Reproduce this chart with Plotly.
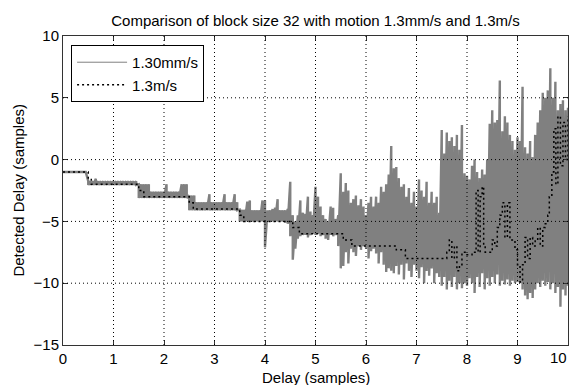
import plotly.graph_objects as go

# ---------------- data ----------------
# 1.30 mm/s: per 0.05-sample bin, upper and lower excursion of detected delay
bin_x = [round(0.05 * i, 2) for i in range(201)]
mm_hi = (
    [-1.0] * 10
    + [-1.75, -1.75, -1.75, -1.55] + [-1.75] * 16
    + [-2.0] * 5 + [-2.6] * 6 + [-2.0] + [-2.6] * 5 + [-2.0] * 3
    + [-2.9] * 3 + [-3.45, -3.45, -3.45, -3.45, -3.45, -2.8, -3.45, -3.45, -3.45, -3.45,
                    -3.45, -2.8, -3.45, -3.45, -3.45, -2.8, -3.45]
    + [-4.05, -4.05, -4.05, -3.4, -3.3, -4.1, -4.1, -4.1, -4.1, -3.3]
    + [-3.3, -4.1, -4.1, -4.0, -3.9, -3.2, -4.1, -4.1, -4.1, -4.0]
    + [-1.8, -4.5, -5.0, -4.5, -3.3, -4.3, -4.4, -3.0, -4.2, -4.5]
    + [-2.2, -3.0, -3.8, -4.5, -4.8, -5.0, -3.8, -3.9, -4.8, -4.5]
    + [-1.1, -2.6, -1.9, -2.5, -3.5, -3.2, -2.9, -3.7, -3.2, -3.8]
    + [-4.5, -3.5, -3.0, -3.8, -3.0, -3.5, -2.2, -2.6, -2.0, -1.2]
    + [1.1, -0.7, -0.6, -1.5, -2.2, -2.0, -3.0, -2.3, -3.5, -2.6]
    + [-3.8, -1.6, -2.5, -3.0, -1.8, -3.5, -2.6, -3.5, -3.0, -4.3]
    + [2.4, 0.5, 2.2, 1.5, 1.8, 1.1, 2.0, 0.8, 2.8, -1.1]
    + [-1.3, -1.6, -0.5, 0.0, -1.0, -1.5, -0.8, -1.2, 0.0, 2.9]
    + [4.0, 3.0, 3.2, 6.4, 2.3, 3.5, 3.0, 2.0, 1.5, 0.8]
    + [1.8, 1.5, 5.9, 1.0, 0.5, 1.5, 0.2, 2.0, 3.0, 4.0]
    + [5.4, 5.0, 5.6, 7.4, 5.0, 6.3, 4.0, 4.5, 4.8, 4.0]
    + [4.2]
)
mm_lo = (
    [-1.0] * 10
    + [-2.05] * 20
    + [-3.1] * 20
    + [-4.1] * 20
    + [-5.0] * 10
    + [-7.1, -5.0, -5.0, -5.0, -5.0, -5.0, -5.0, -5.0, -5.1, -5.2]
    + [-6.2, -8.1, -7.2, -6.4, -6.2, -6.1, -6.1, -6.3, -6.1, -6.0]
    + [-6.1, -6.0, -6.2, -6.1, -6.4, -6.5, -6.1, -6.2, -6.1, -7.0]
    + [-8.8, -8.6, -7.5, -8.4, -7.2, -7.5, -7.8, -7.0, -7.3, -7.0]
    + [-7.2, -8.0, -7.4, -7.2, -7.6, -8.4, -7.5, -8.5, -9.1, -8.8]
    + [-9.0, -9.2, -8.6, -9.3, -8.5, -9.7, -8.4, -9.0, -9.5, -8.5]
    + [-9.0, -9.6, -8.7, -10.0, -9.0, -9.4, -8.8, -10.0, -9.2, -9.5]
    + [-10.2, -9.5, -10.5, -9.8, -10.3, -9.5, -10.5, -10.0, -10.4, -10.0]
    + [-10.2, -9.6, -10.0, -10.8, -9.5, -10.3, -9.2, -10.5, -9.6, -10.2]
    + [-9.5, -10.0, -9.3, -10.2, -9.8, -10.1, -9.7, -10.2, -9.8, -10.0]
    + [-9.9, -10.0, -10.5, -11.0, -11.3, -10.8, -11.2, -10.5, -10.0, -10.3]
    + [-9.8, -10.2, -9.9, -10.5, -10.0, -10.8, -10.3, -11.9, -10.5, -11.0]
    + [-10.2]
)

# 1.3 m/s: stepped detected delay (value holds from each x until the next)
mps_x = [0, 0.5, 0.56, 1.5, 1.6, 2.5, 2.58, 3.5, 3.58, 4.55, 4.68, 5.55, 5.72, 6.6, 6.78,
         7.6, 7.65, 7.7, 7.75, 7.8, 7.85, 7.9, 8.0, 8.1, 8.18, 8.22, 8.26, 8.3, 8.33, 8.36,
         8.45, 8.5, 8.55, 8.6, 8.65, 8.7, 8.75, 8.8, 8.85, 8.9, 8.95, 9.0, 9.05, 9.1, 9.15,
         9.2, 9.25, 9.3, 9.35, 9.4, 9.45, 9.5, 9.55, 9.6, 9.63, 9.68, 9.72, 9.76, 9.8, 9.85,
         9.9, 9.95, 10.0]
mps_y = [-1, -1.6, -2, -2.5, -3, -3.5, -4, -4.5, -5, -5.5, -6, -6.5, -7, -7.3, -8,
         -7.5, -6.5, -8, -7, -9, -8.5, -7.5, -7.7, -7.5, -2.5, -7.5, -3, -2.2, -7, -7.5,
         -7.5, -6.5, -7, -5.5, -4.5, -3.5, -6.3, -3.5, -6.5, -6.5, -7.3, -8.5, -9.9, -8.5, -6.3,
         -8, -6.3, -7, -6.5, -5.5, -7, -5.5, -5.2, -4.5, -3, -1, 2.5, -2, 3.5, -0.5,
         3, 0, 3.5]

x_ticks = [0, 1, 2, 3, 4, 5, 6, 7, 8, 9, 10]
y_ticks = [-15, -10, -5, 0, 5, 10]
series_names = ["1.30mm/s", "1.3m/s"]
title_text = "Comparison of block size 32 with motion 1.3mm/s and 1.3m/s"
x_label = "Delay (samples)"
y_label = "Detected Delay (samples)"

# ---------------- figure ----------------
gx, gy = [], []
for xv, h, l in zip(bin_x, mm_hi, mm_lo):
    gx += [xv, xv]
    gy += [h, l]

FONT = "Liberation Sans, Arial, sans-serif"
GREY = "#808080"
fig = go.Figure()
fig.add_trace(go.Scatter(x=gx, y=gy, mode="lines", name=series_names[0],
                         legendgroup="mm", showlegend=False,
                         line=dict(color=GREY, width=2.4)))
# legend entry for the grey series, drawn with the thin reference line weight
fig.add_trace(go.Scatter(x=[None], y=[None], mode="lines", name=series_names[0],
                         legendgroup="mm", line=dict(color=GREY, width=1)))
fig.add_trace(go.Scatter(x=mps_x, y=mps_y, mode="lines", name=series_names[1],
                         line=dict(color="black", width=1.5, dash="2px,3px", shape="hv")))

shapes = []
for xv in x_ticks[1:-1]:
    shapes.append(dict(type="line", xref="x", yref="paper", x0=xv, x1=xv, y0=0, y1=1,
                       line=dict(color="black", width=1, dash="1px,3px"), layer="above"))
for yv in y_ticks[1:-1]:
    shapes.append(dict(type="line", xref="paper", yref="y", x0=0, x1=1, y0=yv, y1=yv,
                       line=dict(color="black", width=1, dash="1px,3px"), layer="above"))

axis_common = dict(showgrid=False, zeroline=False, showline=True, linecolor="#333333",
                   linewidth=1, mirror="ticks", ticks="inside", ticklen=5,
                   tickcolor="#333333",
                   tickfont=dict(family=FONT, size=15, color="black"))
fig.update_layout(
    width=569, height=385,
    margin=dict(l=63, r=1, t=36, b=40),
    paper_bgcolor="white", plot_bgcolor="white",
    font=dict(family=FONT, size=15, color="black"),
    title=dict(text=title_text, x=0.5, xref="paper", y=1 - 21 / 385, yref="container",
               yanchor="middle", xanchor="center", font=dict(family=FONT, size=15)),
    xaxis=dict(range=[0, 10], tickvals=x_ticks[:-1], **axis_common),
    yaxis=dict(range=[-15, 10], tickvals=y_ticks, **axis_common),
    legend=dict(x=0.016, y=0.971, xanchor="left", yanchor="top", bgcolor="white",
                bordercolor="black", borderwidth=1, font=dict(family=FONT, size=15),
                itemwidth=50, tracegroupgap=0),
    shapes=shapes,
    annotations=[
        # last x tick label sits on the right border; kept inside the canvas
        dict(text=str(x_ticks[-1]), xref="x", yref="paper", x=x_ticks[-1], y=0,
             yshift=-12, xshift=1, showarrow=False, xanchor="right", yanchor="middle",
             font=dict(family=FONT, size=15)),
        dict(text=x_label, xref="paper", yref="paper", x=0.5, y=-0.1036, showarrow=False,
             xanchor="center", yanchor="middle", font=dict(family=FONT, size=15)),
        dict(text=y_label, xref="paper", yref="paper", x=-0.089, y=0.5, showarrow=False,
             textangle=-90, xanchor="center", yanchor="middle", font=dict(family=FONT, size=15)),
    ],
)
fig.write_html("out.html")
